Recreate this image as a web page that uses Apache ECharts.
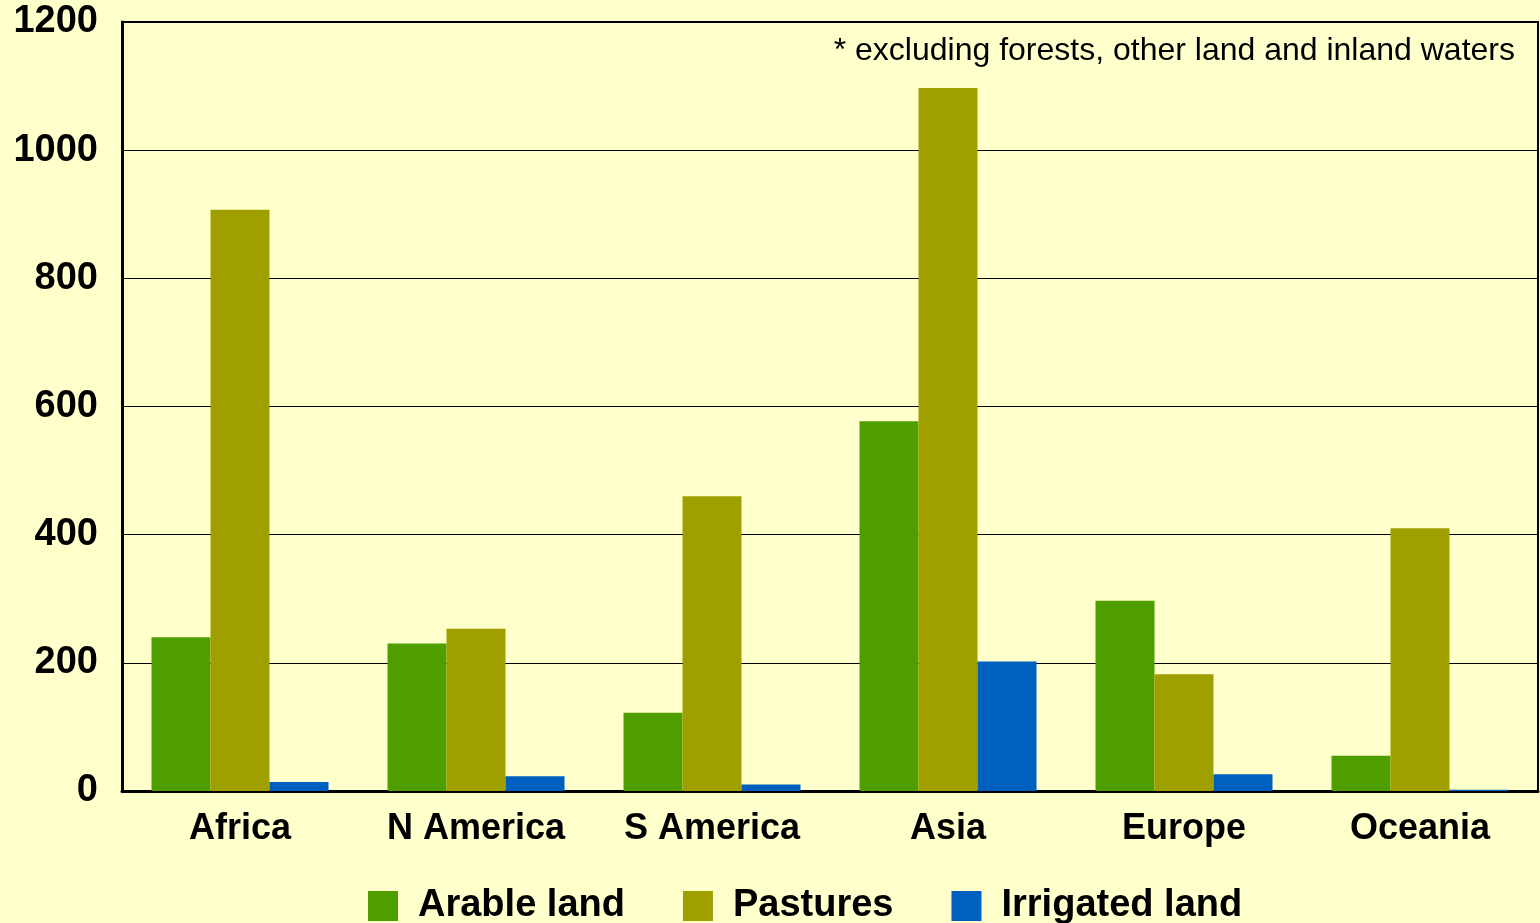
<!DOCTYPE html>
<html>
<head>
<meta charset="utf-8">
<script src="https://cdn.jsdelivr.net/npm/echarts@6/dist/echarts.min.js"></script>
<style>
    html, body { margin: 0; padding: 0; background: #ffffcc; }
    #landChart { width: 1540px; height: 923px; }
</style>
</head>
<body>
<div id="landChart"></div>
<script>
    // regions and land use (million ha)
    const regions = ['Africa', 'N America', 'S America', 'Asia', 'Europe', 'Oceania'];
    const arableLand = [240, 230, 122, 577, 297, 55];
    const pastures = [907, 253, 460, 1097, 182, 410];
    const irrigatedLand = [14, 23, 10, 202, 26, 2];
    const yTicks = { min: 0, max: 1200, interval: 200 };
    const note = '* excluding forests, other land and inland waters';

    let myChart = echarts.init(document.getElementById('landChart'));
    myChart.setOption({
        backgroundColor: '#ffffcc',
        animation: false,
        textStyle: { fontFamily: 'Liberation Sans, Arial, sans-serif' },
        grid: {
            left: 122,
            right: 2,
            top: 22,
            bottom: 132,
            show: true,
            borderColor: '#000',
            borderWidth: 2,
            backgroundColor: 'transparent'
        },
        legend: {
            left: 368,
            top: 887,
            padding: 0,
            itemWidth: 30,
            itemHeight: 30,
            itemGap: 58,
            icon: 'rect',
            textStyle: {
                color: '#000',
                fontSize: 38,
                fontWeight: 'bold',
                lineHeight: 32,
                padding: [0, 0, 0, 15]
            },
            data: ['Arable land', 'Pastures', 'Irrigated land']
        },
        graphic: [{
            type: 'text',
            right: 25,
            top: 35,
            style: {
                text: note,
                fill: '#000',
                font: '32px "Liberation Sans", Arial, sans-serif'
            }
        }],
        xAxis: {
            type: 'category',
            data: regions,
            axisLine: { lineStyle: { color: '#000', width: 3 } },
            axisTick: { inside: true, length: 16, lineStyle: { color: '#333', width: 1 } },
            axisLabel: {
                color: '#000',
                fontSize: 36,
                fontWeight: 'bold',
                margin: 20
            }
        },
        yAxis: {
            type: 'value',
            min: yTicks.min,
            max: yTicks.max,
            interval: yTicks.interval,
            axisLine: { show: true, lineStyle: { color: '#000', width: 3 } },
            axisTick: { show: false },
            axisLabel: {
                color: '#000',
                fontSize: 38,
                fontWeight: 'bold',
                margin: 24,
                formatter: function (v) { return String(v); }
            },
            splitLine: { lineStyle: { color: '#000', width: 1 } }
        },
        series: [
            {
                name: 'Arable land',
                type: 'bar',
                data: arableLand,
                barGap: '0%',
                barCategoryGap: '25%',
                itemStyle: { color: '#4f9e00' }
            },
            {
                name: 'Pastures',
                type: 'bar',
                data: pastures,
                barGap: '0%',
                barCategoryGap: '25%',
                itemStyle: { color: '#a09f00' }
            },
            {
                name: 'Irrigated land',
                type: 'bar',
                data: irrigatedLand,
                barGap: '0%',
                barCategoryGap: '25%',
                itemStyle: { color: '#0060c0' }
            }
        ]
    });
</script>
</body>
</html>
